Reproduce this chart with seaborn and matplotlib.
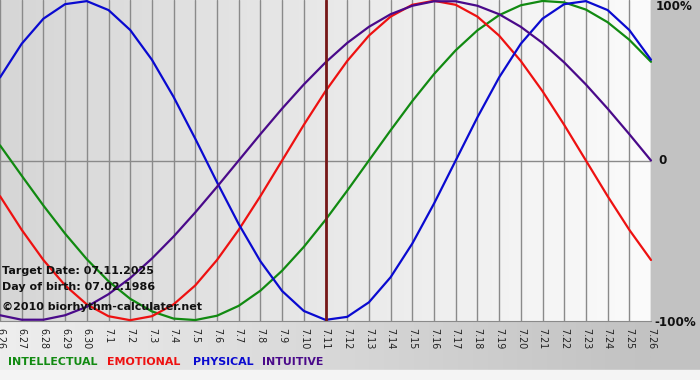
import numpy as np
import pandas as pd
import matplotlib
matplotlib.use("Agg")
import matplotlib.pyplot as plt
from matplotlib.colors import LinearSegmentedColormap
import seaborn as sns

# ---- data ----
dates = ["6.26", "6.27", "6.28", "6.29", "6.30", "7.1", "7.2", "7.3", "7.4", "7.5",
         "7.6", "7.7", "7.8", "7.9", "7.10", "7.11", "7.12", "7.13", "7.14", "7.15",
         "7.16", "7.17", "7.18", "7.19", "7.20", "7.21", "7.22", "7.23", "7.24", "7.25", "7.26"]

physical = [0.520, 0.731, 0.888, 0.979, 0.998, 0.942, 0.817, 0.631, 0.398, 0.136,
            -0.136, -0.398, -0.631, -0.817, -0.942, -0.998, -0.979, -0.888, -0.731, -0.520,
            -0.270, 0.000, 0.270, 0.520, 0.731, 0.888, 0.979, 0.998, 0.942, 0.817, 0.631]

emotional = [-0.223, -0.434, -0.623, -0.782, -0.901, -0.975, -1.000, -0.975, -0.901, -0.782,
             -0.623, -0.434, -0.223, 0.000, 0.223, 0.434, 0.623, 0.782, 0.901, 0.975,
             1.000, 0.975, 0.901, 0.782, 0.623, 0.434, 0.223, 0.000, -0.223, -0.434, -0.623]

intellectual = [0.095, -0.095, -0.282, -0.458, -0.618, -0.756, -0.866, -0.945, -0.990, -0.999,
                -0.972, -0.910, -0.815, -0.690, -0.541, -0.372, -0.189, 0.000, 0.189, 0.372,
                0.541, 0.690, 0.815, 0.910, 0.972, 0.999, 0.990, 0.945, 0.866, 0.756, 0.618]

intuitive = [-0.969, -0.997, -0.997, -0.969, -0.916, -0.837, -0.736, -0.614, -0.476, -0.325,
             -0.165, 0.000, 0.165, 0.325, 0.476, 0.614, 0.736, 0.837, 0.916, 0.969,
             0.997, 0.997, 0.969, 0.916, 0.837, 0.736, 0.614, 0.476, 0.325, 0.165, 0.000]

series_names = ["INTELLECTUAL", "EMOTIONAL", "PHYSICAL", "INTUITIVE"]
target_date = "7.11"
target_text = "Target Date: 07.11.2025"
birth_text = "Day of birth: 07.02.1986"
credit_text = "\u00a92010 biorhythm-calculater.net"
y_labels = ["100%", "0", "-100%"]

# ---- styles ----
colors = {"INTELLECTUAL": "#118a11", "EMOTIONAL": "#ee1111",
          "PHYSICAL": "#0a0ad0", "INTUITIVE": "#4a0a8a"}

sns.set_style("white")
plt.rcParams['font.family'] = ['DejaVu Sans']

W, H = 700, 380
fig = plt.figure(figsize=(7, 3.8), dpi=100)

# figure background
bg = fig.add_axes([0, 0, 1, 1], zorder=-10)
bg.set_axis_off()
px_w = 651 / W
bg_cmap = LinearSegmentedColormap.from_list("bg", ["#eeeeee", "#c2c2c2"])
grad = np.linspace(0, 1, 256).reshape(1, -1)
bg.imshow(grad, cmap=bg_cmap, extent=[0, px_w, 10 / H, 1], aspect='auto',
          transform=bg.transAxes)
bg.add_patch(plt.Rectangle((px_w, 10 / H), 1 - px_w, 1, color="#c2c2c2",
                           transform=bg.transAxes, zorder=2))
bg.add_patch(plt.Rectangle((0, 0), 1, 10 / H, color="#f4f4f4",
                           transform=bg.transAxes, zorder=2))
bg.set_xlim(0, 1)
bg.set_ylim(0, 1)

# main axes
ax = fig.add_axes([0, 1 - 321 / H, px_w, 321 / H])
x = np.arange(len(dates))
ax_cmap = LinearSegmentedColormap.from_list("ax", ["#d6d6d6", "#fbfbfb"])
ax.imshow(grad, cmap=ax_cmap, extent=[0, len(dates) - 1, -1.005, 1.005],
          aspect='auto', zorder=0)

for xi in x:
    ax.axvline(xi, color="#8a8a8a", lw=1.0, zorder=1)
ax.axhline(0, color="#8a8a8a", lw=1.0, zorder=1)

df = pd.DataFrame({
    "day": np.tile(x, 4),
    "value": physical + emotional + intellectual + intuitive,
    "series": (["PHYSICAL"] * len(x) + ["EMOTIONAL"] * len(x)
               + ["INTELLECTUAL"] * len(x) + ["INTUITIVE"] * len(x)),
})
sns.lineplot(data=df, x="day", y="value", hue="series", palette=colors,
             hue_order=["INTELLECTUAL", "EMOTIONAL", "PHYSICAL", "INTUITIVE"],
             lw=1.6, legend=False, ax=ax, zorder=3, clip_on=False)

ax.axvline(dates.index(target_date), color="#761818", lw=2.0, zorder=4)

ax.set_xlim(0, len(dates) - 1)
ax.set_ylim(-1.005, 1.005)
ax.set_xticks(x)
ax.set_xticklabels(dates, rotation=-90, fontsize=6.9, color="#222222")
ax.tick_params(axis='x', length=3, color="#8a8a8a", pad=2)
ax.set_yticks([])
ax.set_xlabel("")
ax.set_ylabel("")
for s in ["top", "left", "right"]:
    ax.spines[s].set_visible(False)
ax.spines["bottom"].set_color("#8a8a8a")

# overlay texts
for txt, ypx in [(target_text, 271), (birth_text, 287), (credit_text, 307)]:
    fig.text(2 / W, 1 - ypx / H, txt, fontsize=8.0, fontweight='bold',
             color="#111111", va='center', ha='left', zorder=10)

# right labels
fig.text(656 / W, 1 - 7 / H, y_labels[0], fontsize=8.6, fontweight='bold',
         va='center', ha='left', color="#111111")
fig.text(658 / W, 1 - 161 / H, y_labels[1], fontsize=8.6, fontweight='bold',
         va='center', ha='left', color="#111111")
fig.text(654 / W, 1 - 322 / H, y_labels[2], fontsize=8.6, fontweight='bold',
         va='center', ha='left', color="#111111")

# legend text
leg_x = {"INTELLECTUAL": 8, "EMOTIONAL": 107, "PHYSICAL": 193, "INTUITIVE": 262}
for name in series_names:
    fig.text(leg_x[name] / W, 1 - 362 / H, name, fontsize=7.9, fontweight='bold',
             color=colors[name], va='center', ha='left')

fig.savefig("out.png", dpi=100)
